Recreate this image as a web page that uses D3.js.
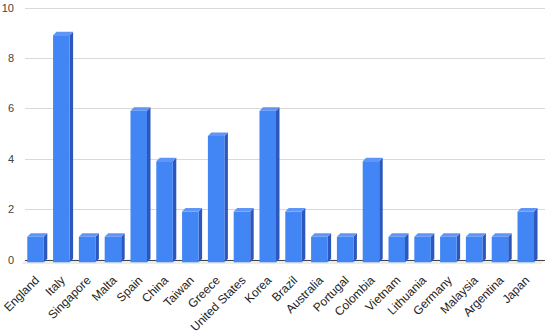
<!DOCTYPE html>
<html>
<head>
<meta charset="utf-8">
<script src="https://cdn.jsdelivr.net/npm/d3@7"></script>
<style>
  body { margin: 0; background: #fff; }
  text { font-family: "Liberation Sans", Arial, sans-serif; }
</style>
</head>
<body>
<div class="container"></div>
<script>
const countries = ["England", "Italy", "Singapore", "Malta", "Spain", "China", "Taiwan", "Greece",
    "United States", "Korea", "Brazil", "Australia", "Portugal", "Colombia", "Vietnam",
    "Lithuania", "Germany", "Malaysia", "Argentina", "Japan"]
const counts = [1, 9, 1, 1, 6, 4, 2, 5, 2, 6, 2, 1, 1, 4, 1, 1, 1, 1, 1, 2]
const yTicks = [0, 2, 4, 6, 8, 10]

const width = 550
const height = 334
const depth = 3.5

const dataset = countries.map((c, i) => ({ name: c, value: counts[i] }))

let svg = d3.select(".container")
    .append("svg")
    .attr("width", width)
    .attr("height", height)
    .attr("viewBox", [0, 0, width, height])

let xScale = d3.scaleBand()
    .domain(countries)
    .range([24.7, 536.6])
    .paddingInner(0.36)
    .paddingOuter(0.1)

let yScale = d3.scaleLinear()
    .domain([0, 10])
    .range([259.5, 7.5])

// gridlines
svg.append("g")
    .selectAll("line")
    .data(yTicks.filter(d => d > 0))
    .enter()
    .append("line")
    .attr("x1", 25)
    .attr("x2", 545)
    .attr("y1", d => Math.round(yScale(d)) + 0.5)
    .attr("y2", d => Math.round(yScale(d)) + 0.5)
    .attr("stroke", "#d9d9d9")

// floor
svg.append("polygon")
    .attr("points", `22,264 541,264 545,${yScale(0)} 25,${yScale(0)}`)
    .attr("fill", "#ececec")

svg.append("line")
    .attr("x1", 25)
    .attr("x2", 545)
    .attr("y1", Math.round(yScale(0)) + 0.5)
    .attr("y2", Math.round(yScale(0)) + 0.5)
    .attr("stroke", "#444")

// y axis labels
svg.append("g")
    .selectAll("text")
    .data(yTicks)
    .enter()
    .append("text")
    .attr("x", 14)
    .attr("y", d => yScale(d) + 4)
    .attr("text-anchor", "end")
    .attr("font-size", 11)
    .attr("fill", "#444")
    .text(d => d)

// 3d bars
let bars = svg.append("g")
    .selectAll("g")
    .data(dataset)
    .enter()
    .append("g")

const bw = xScale.bandwidth()
const bottom = yScale(0) + 2.8

bars.append("polygon")
    .attr("fill", "#2c58bd")
    .attr("points", d => {
        let x = xScale(d.name) + bw, t = yScale(d.value) + 2.5
        return `${x},${t} ${x + depth},${t - depth} ${x + depth},${bottom - depth} ${x},${bottom}`
    })

bars.append("polygon")
    .attr("fill", "#5f95f7")
    .attr("points", d => {
        let x = xScale(d.name), t = yScale(d.value) + 2.5
        return `${x},${t} ${x + depth},${t - depth} ${x + bw + depth},${t - depth} ${x + bw},${t}`
    })

bars.append("rect")
    .attr("fill", "#4285f4")
    .attr("x", d => xScale(d.name))
    .attr("y", d => yScale(d.value) + 2.5)
    .attr("width", bw)
    .attr("height", d => bottom - yScale(d.value) - 2.5)

// x axis labels
svg.append("g")
    .selectAll("text")
    .data(countries)
    .enter()
    .append("text")
    .attr("text-anchor", "end")
    .attr("font-size", 12)
    .attr("fill", "#222")
    .attr("transform", d => `translate(${xScale(d) + bw / 2 + 4.5}, 281) rotate(-45)`)
    .text(d => d)

svg.node()
</script>
</body>
</html>
